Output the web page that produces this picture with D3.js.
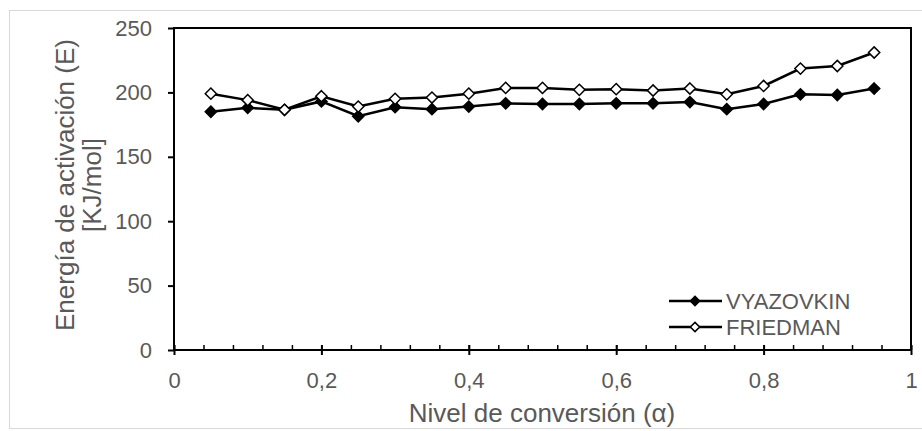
<!DOCTYPE html>
<html>
<head>
    <style>
        body { margin: 0; background: #fff; }
        text { font-family: "Liberation Sans", Arial, sans-serif; fill: #595959; }
    </style>
    <script src="https://d3js.org/d3.v7.min.js"></script>
</head>
<body>
    <div id="chart"></div>

    <script>
        // conversion levels
        var alpha = [0.05, 0.10, 0.15, 0.20, 0.25, 0.30, 0.35, 0.40, 0.45, 0.50,
                     0.55, 0.60, 0.65, 0.70, 0.75, 0.80, 0.85, 0.90, 0.95];
        var vyazovkin = [185, 188, 186.5, 193, 181.5, 188.5, 187, 189, 191.5, 191,
                         191, 191.5, 191.5, 192.5, 187, 191, 198.5, 198, 203];
        var friedman = [199, 194, 186.5, 197, 189, 195, 196, 199, 203.5, 203.5,
                        202, 202.5, 201.5, 203, 198.5, 205, 218.5, 220.5, 231];
        var xTicks = [0, 0.2, 0.4, 0.6, 0.8, 1];
        var yTicks = [0, 50, 100, 150, 200, 250];

        var width = 922, height = 431;
        var mLeft = 174, mRight = 911, mTop = 28, mBottom = 350;

        var svg = d3.select("#chart").append("svg")
            .attr("width", width)
            .attr("height", height);

        // outer chart frame
        svg.append("rect")
            .attr("x", 9.5).attr("y", 10.5)
            .attr("width", 930).attr("height", 418)
            .attr("fill", "none")
            .attr("stroke", "#d9d9d9");

        var x = d3.scaleLinear().domain([0, 1]).range([mLeft, mRight]);
        var y = d3.scaleLinear().domain([0, 250]).range([mBottom, mTop]);

        // minor x ticks (inside)
        svg.append("g")
            .attr("transform", "translate(0," + mBottom + ")")
            .call(d3.axisTop(x).tickValues(d3.range(0, 1.0001, 0.04)).tickSize(5).tickFormat(""))
            .call(function(g) { g.select(".domain").remove(); })
            .selectAll("line").attr("stroke", "#000").attr("stroke-width", 1.5);

        // major x ticks crossing the axis
        var xa = svg.append("g")
            .attr("transform", "translate(0," + (mBottom - 5) + ")")
            .call(d3.axisBottom(x).tickValues(xTicks).tickSize(10).tickPadding(0)
                .tickFormat(function(d) { return String(d).replace(".", ","); }));
        xa.select(".domain").remove();
        xa.selectAll("line").attr("stroke", "#000").attr("stroke-width", 2);
        xa.selectAll("text").attr("y", 43).attr("dy", null)
            .attr("font-size", 22).style("fill", "#595959");

        var ya = svg.append("g")
            .attr("transform", "translate(" + mLeft + ",0)")
            .call(d3.axisLeft(y).tickValues(yTicks).tickSize(6).tickPadding(16));
        ya.select(".domain").remove();
        ya.selectAll("line").attr("stroke", "#000").attr("stroke-width", 2);
        ya.selectAll("text").attr("x", -22).attr("font-size", 22).style("fill", "#595959");

        // plot frame
        svg.append("rect")
            .attr("x", mLeft).attr("y", mTop)
            .attr("width", mRight - mLeft).attr("height", mBottom - mTop)
            .attr("fill", "none")
            .attr("stroke", "#000")
            .attr("stroke-width", 2);

        var line = d3.line()
            .x(function(d) { return x(d[0]); })
            .y(function(d) { return y(d[1]); });

        var diamond = d3.symbol().type(d3.symbolDiamond2);

        function drawSeries(vals, fill, r) {
            var pts = alpha.map(function(a, i) { return [a, vals[i]]; });
            svg.append("path")
                .datum(pts)
                .attr("d", line)
                .attr("fill", "none")
                .attr("stroke", "#000")
                .attr("stroke-width", 2.5);
            svg.selectAll(null)
                .data(pts)
                .enter().append("path")
                .attr("d", diamond.size(r)())
                .attr("transform", function(d) { return "translate(" + x(d[0]) + "," + y(d[1]) + ")"; })
                .attr("fill", fill)
                .attr("stroke", "#000")
                .attr("stroke-width", 1.5);
        }
        drawSeries(vyazovkin, "#000", 80);
        drawSeries(friedman, "#fff", 80);

        // legend
        var legend = [
            { name: "VYAZOVKIN", fill: "#000", y: 301 },
            { name: "FRIEDMAN", fill: "#fff", y: 327 }
        ];
        var lg = svg.selectAll(".leg").data(legend).enter().append("g")
            .attr("class", "leg");
        lg.append("line")
            .attr("x1", 669).attr("x2", 722)
            .attr("y1", function(d) { return d.y; })
            .attr("y2", function(d) { return d.y; })
            .attr("stroke", "#000").attr("stroke-width", 2.5);
        lg.append("path")
            .attr("d", diamond.size(55)())
            .attr("transform", function(d) { return "translate(695," + d.y + ")"; })
            .attr("fill", function(d) { return d.fill; })
            .attr("stroke", "#000").attr("stroke-width", 1.5);
        lg.append("text")
            .attr("x", 726)
            .attr("y", function(d) { return d.y; })
            .attr("dy", "0.36em")
            .attr("font-size", 22)
            .text(function(d) { return d.name; });

        // axis titles
        svg.append("text")
            .attr("x", 542)
            .attr("y", 422)
            .attr("text-anchor", "middle")
            .attr("font-size", 26)
            .text("Nivel de conversión (α)");

        var yt = svg.append("text")
            .attr("transform", "translate(74,185) rotate(-90)")
            .attr("text-anchor", "middle")
            .attr("font-size", 26);
        yt.append("tspan").attr("x", 0).attr("y", 0).text("Energía de activación (E)");
        yt.append("tspan").attr("x", 0).attr("y", 27).text("[KJ/mol]");
    </script>
</body>
</html>
